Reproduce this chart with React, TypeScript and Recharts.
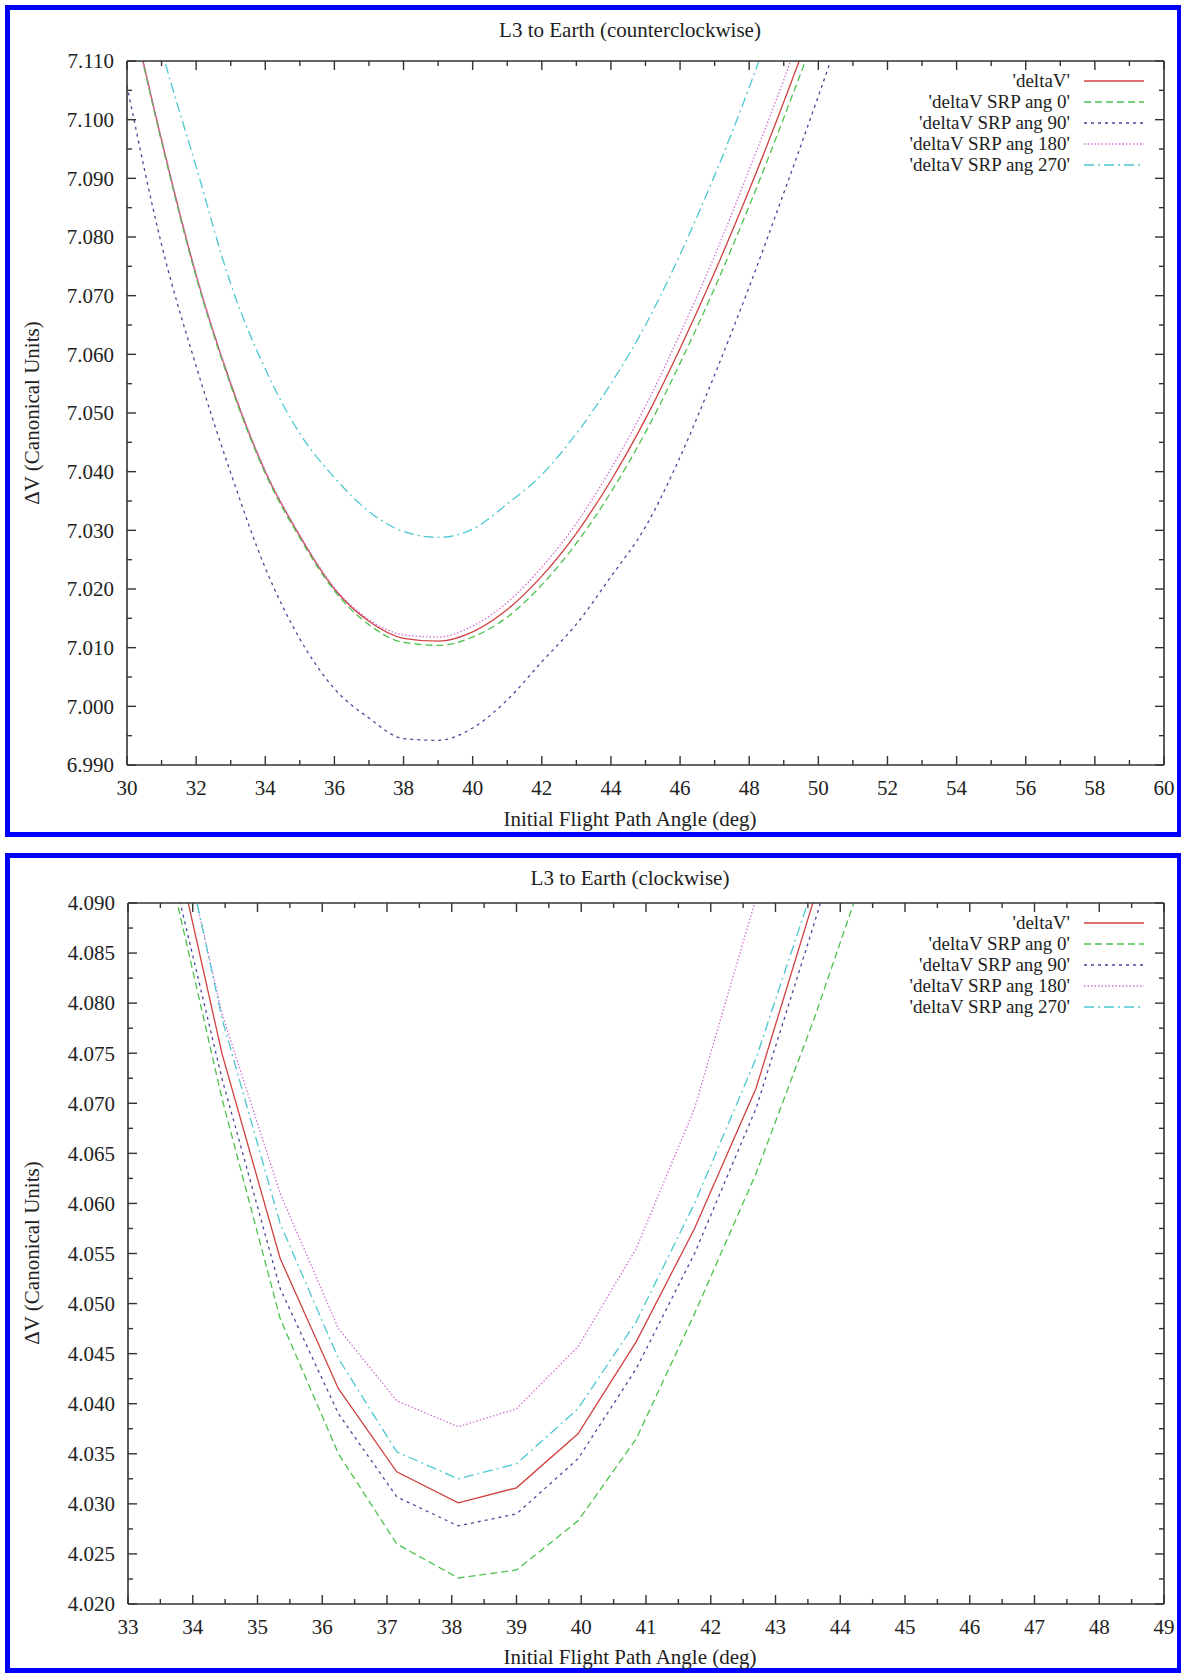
import React from 'react';
import { LineChart, Line, XAxis, YAxis } from 'recharts';

const FONT = '"Liberation Serif", "Times New Roman", serif';
const INK = '#222';
const AXIS = '#333';
const FRAME = '#0000ff';

// L3 to Earth (counterclockwise)
const ccwAngles = [30, 31, 32, 33, 34, 35, 36, 37, 38, 39, 40, 41, 42, 43, 44, 45, 46, 47, 48, 49, 50, 51];
const ccwDeltaV = [7.122, 7.0965, 7.0735, 7.055, 7.04, 7.029, 7.02, 7.0145, 7.0116, 7.0111, 7.0127, 7.0165, 7.0222, 7.0295, 7.0385, 7.049, 7.061, 7.074, 7.088, 7.103, 7.119, 7.136];
const ccwSrp0 = [7.1218, 7.0962, 7.0732, 7.0547, 7.0397, 7.0287, 7.0197, 7.0139, 7.0109, 7.0104, 7.0118, 7.0152, 7.0207, 7.0278, 7.0365, 7.0467, 7.0585, 7.0713, 7.0853, 7.1003, 7.116, 7.133];
const ccwSrp90 = [7.1058, 7.0787, 7.058, 7.0398, 7.0236, 7.0115, 7.003, 6.998, 6.9945, 6.9942, 6.9963, 7.0011, 7.0076, 7.014, 7.0221, 7.0306, 7.0425, 7.0565, 7.0715, 7.0875, 7.104, 7.121];
const ccwSrp180 = [7.1222, 7.0967, 7.0737, 7.0552, 7.0402, 7.0292, 7.0202, 7.0148, 7.0122, 7.0118, 7.0137, 7.0177, 7.0237, 7.0312, 7.0405, 7.0512, 7.0635, 7.0768, 7.0915, 7.1068, 7.1235, 7.141];
const ccwSrp270 = [7.136, 7.112, 7.092, 7.072, 7.0575, 7.0465, 7.039, 7.0332, 7.0298, 7.0288, 7.0302, 7.0345, 7.0395, 7.0465, 7.055, 7.065, 7.077, 7.0905, 7.1055, 7.122, 7.139, 7.157];
const ccwXTicks = [30, 31, 32, 33, 34, 35, 36, 37, 38, 39, 40, 41, 42, 43, 44, 45, 46, 47, 48, 49, 50, 51, 52, 53, 54, 55, 56, 57, 58, 59, 60];
const ccwYTicks = [6.99, 6.995, 7.0, 7.005, 7.01, 7.015, 7.02, 7.025, 7.03, 7.035, 7.04, 7.045, 7.05, 7.055, 7.06, 7.065, 7.07, 7.075, 7.08, 7.085, 7.09, 7.095, 7.1, 7.105, 7.11];

// L3 to Earth (clockwise)
const cwAngles = [33.55, 34.45, 35.35, 36.25, 37.15, 38.1, 39.0, 39.95, 40.85, 41.75, 42.7, 43.6, 44.5];
const cwDeltaV = [4.101, 4.075, 4.0545, 4.0415, 4.0332, 4.0301, 4.0316, 4.037, 4.0462, 4.0575, 4.0715, 4.0905, 4.11];
const cwSrp0 = [4.096, 4.0705, 4.0485, 4.035, 4.026, 4.0226, 4.0234, 4.0283, 4.0365, 4.049, 4.063, 4.0785, 4.0955];
const cwSrp90 = [4.097, 4.0725, 4.0515, 4.039, 4.0307, 4.0278, 4.029, 4.0345, 4.0435, 4.055, 4.0695, 4.088, 4.107];
const cwSrp180 = [4.1045, 4.079, 4.061, 4.0475, 4.0403, 4.0377, 4.0395, 4.0457, 4.0555, 4.0695, 4.0905, 4.112, 4.133];
const cwSrp270 = [4.1055, 4.0785, 4.058, 4.0445, 4.0352, 4.0325, 4.034, 4.0395, 4.0482, 4.06, 4.0745, 4.092, 4.111];
const cwXTicks = [33, 33.5, 34, 34.5, 35, 35.5, 36, 36.5, 37, 37.5, 38, 38.5, 39, 39.5, 40, 40.5, 41, 41.5, 42, 42.5, 43, 43.5, 44, 44.5, 45, 45.5, 46, 46.5, 47, 47.5, 48, 48.5, 49];
const cwYTicks = [4.02, 4.0225, 4.025, 4.0275, 4.03, 4.0325, 4.035, 4.0375, 4.04, 4.0425, 4.045, 4.0475, 4.05, 4.0525, 4.055, 4.0575, 4.06, 4.0625, 4.065, 4.0675, 4.07, 4.0725, 4.075, 4.0775, 4.08, 4.0825, 4.085, 4.0875, 4.09];

const series = [
  { key: 'deltaV', label: "'deltaV'", color: '#d04040', dash: undefined as string | undefined },
  { key: 'srp0', label: "'deltaV SRP ang 0'", color: '#4cc24c', dash: '7 4' },
  { key: 'srp90', label: "'deltaV SRP ang 90'", color: '#48489c', dash: '3 4' },
  { key: 'srp180', label: "'deltaV SRP ang 180'", color: '#d070d0', dash: '1.5 2' },
  { key: 'srp270', label: "'deltaV SRP ang 270'", color: '#4cc8d0', dash: '10 4 2 4' },
];

const buildRows = (angles: number[], cols: number[][]) =>
  angles.map((angle, i) => ({
    angle,
    deltaV: cols[0][i],
    srp0: cols[1][i],
    srp90: cols[2][i],
    srp180: cols[3][i],
    srp270: cols[4][i],
  }));

const ccwRows = buildRows(ccwAngles, [ccwDeltaV, ccwSrp0, ccwSrp90, ccwSrp180, ccwSrp270]);
const cwRows = buildRows(cwAngles, [cwDeltaV, cwSrp0, cwSrp90, cwSrp180, cwSrp270]);

const X_MARGIN = 15;
const Y_MARGIN = 13;
const len = (major: boolean) => (major ? 9 : 5);
const textStyle = { fontFamily: FONT, fontSize: 21, fill: INK };

interface ChartProps {
  top: number;
  height: number;
  margin: { top: number; right: number; bottom: number; left: number };
  rows: any[];
  xDomain: [number, number];
  xTicks: number[];
  yDomain: [number, number];
  yTicks: number[];
  majorX: (v: number) => boolean;
  majorY: (v: number) => boolean;
  curve: 'monotone' | 'linear';
}

function DeltaVChart({ top, height, margin, rows, xDomain, xTicks, yDomain, yTicks, majorX, majorY, curve }: ChartProps) {
  // gnuplot-style ticks: pointing inwards, minor ones shorter and unlabeled
  const bottomTick = (p: any) => {
    const major = majorX(p.payload.value);
    const ay = p.y - X_MARGIN;
    return (
      <g>
        <line x1={p.x} x2={p.x} y1={ay} y2={ay - len(major)} stroke={AXIS} strokeWidth={1.4} />
        {major && (
          <text x={p.x} y={p.y} dy="0.71em" textAnchor="middle" style={textStyle}>
            {String(p.payload.value)}
          </text>
        )}
      </g>
    );
  };
  const topTick = (p: any) => (
    <line x1={p.x} x2={p.x} y1={p.y} y2={p.y + len(majorX(p.payload.value))} stroke={AXIS} strokeWidth={1.4} />
  );
  const leftTick = (p: any) => {
    const major = majorY(p.payload.value);
    const ax = p.x + Y_MARGIN;
    return (
      <g>
        <line x1={ax} x2={ax + len(major)} y1={p.y} y2={p.y} stroke={AXIS} strokeWidth={1.4} />
        {major && (
          <text x={p.x} y={p.y} dy="0.35em" textAnchor="end" style={textStyle}>
            {p.payload.value.toFixed(3)}
          </text>
        )}
      </g>
    );
  };
  const rightTick = (p: any) => (
    <line x1={p.x} x2={p.x - len(majorY(p.payload.value))} y1={p.y} y2={p.y} stroke={AXIS} strokeWidth={1.4} />
  );

  return (
    <div style={{ position: 'absolute', left: 0, top }}>
      <LineChart width={1181} height={height} data={rows} margin={margin}>
        <XAxis
          dataKey="angle"
          type="number"
          domain={xDomain}
          ticks={xTicks}
          interval={0}
          allowDataOverflow
          height={40}
          tickSize={0}
          tickMargin={X_MARGIN}
          tick={bottomTick}
          axisLine={{ stroke: AXIS, strokeWidth: 1.6 }}
        />
        <XAxis
          xAxisId="t"
          orientation="top"
          dataKey="angle"
          type="number"
          domain={xDomain}
          ticks={xTicks}
          interval={0}
          allowDataOverflow
          height={5}
          tickSize={0}
          tickMargin={0}
          tick={topTick}
          axisLine={{ stroke: AXIS, strokeWidth: 1.6 }}
        />
        <YAxis
          type="number"
          domain={yDomain}
          ticks={yTicks}
          interval={0}
          allowDataOverflow
          width={80}
          tickSize={0}
          tickMargin={Y_MARGIN}
          tick={leftTick}
          axisLine={{ stroke: AXIS, strokeWidth: 1.6 }}
        />
        <YAxis
          yAxisId="r"
          orientation="right"
          type="number"
          domain={yDomain}
          ticks={yTicks}
          interval={0}
          allowDataOverflow
          width={5}
          tickSize={0}
          tickMargin={0}
          tick={rightTick}
          axisLine={{ stroke: AXIS, strokeWidth: 1.6 }}
        />
        {series.map((s) => (
          <Line
            key={s.key}
            type={curve}
            dataKey={s.key}
            stroke={s.color}
            strokeWidth={1.3}
            strokeDasharray={s.dash}
            dot={false}
            activeDot={false}
            isAnimationActive={false}
          />
        ))}
      </LineChart>
    </div>
  );
}

const Caption = ({ cx, cy, text, rotate }: { cx: number; cy: number; text: string; rotate?: boolean }) => (
  <div
    style={{
      position: 'absolute',
      left: cx - 300,
      top: cy - 12,
      width: 600,
      height: 24,
      lineHeight: '24px',
      textAlign: 'center',
      fontFamily: FONT,
      fontSize: 21,
      color: INK,
      whiteSpace: 'nowrap',
      transform: rotate ? 'rotate(-90deg)' : undefined,
    }}
  >
    {text}
  </div>
);

const ROW = 21;

const KeyBox = ({ top }: { top: number }) => (
  <div style={{ position: 'absolute', left: 700, width: 444, top }}>
    {series.map((s) => (
      <div key={s.key} style={{ display: 'flex', justifyContent: 'flex-end', alignItems: 'center', height: ROW }}>
        <span
          style={{
            display: 'block',
            height: ROW,
            lineHeight: `${ROW}px`,
            whiteSpace: 'nowrap',
            fontFamily: FONT,
            fontSize: 19,
            color: INK,
          }}
        >
          {s.label}
        </span>
        <svg width={60} height={8} style={{ marginLeft: 14 }}>
          <line x1={0} x2={60} y1={4} y2={4} stroke={s.color} strokeWidth={1.3} strokeDasharray={s.dash} />
        </svg>
      </div>
    ))}
  </div>
);

const Frame = ({ top, height }: { top: number; height: number }) => (
  <div
    style={{
      position: 'absolute',
      left: 5,
      top,
      width: 1176,
      height,
      boxSizing: 'border-box',
      border: `5px solid ${FRAME}`,
      borderRightWidth: 4,
      background: '#fff',
    }}
  />
);

export default function App() {
  return (
    <div style={{ position: 'absolute', left: 0, top: 0, width: 1181, height: 1673, background: '#fff', overflow: 'hidden' }}>
      <Frame top={5} height={832} />
      <Frame top={853} height={820} />

      <Caption cx={630} cy={30} text="L3 to Earth (counterclockwise)" />
      <DeltaVChart
        top={0}
        height={837}
        margin={{ top: 56, right: 12, bottom: 32, left: 47 }}
        rows={ccwRows}
        xDomain={[30, 60]}
        xTicks={ccwXTicks}
        yDomain={[6.99, 7.11]}
        yTicks={ccwYTicks}
        majorX={(v) => v % 2 === 0}
        majorY={(v) => Math.round(v * 1000) % 10 === 0}
        curve="monotone"
      />
      <Caption cx={32} cy={413} text="ΔV (Canonical Units)" rotate />
      <Caption cx={630} cy={819} text="Initial Flight Path Angle (deg)" />
      <KeyBox top={70} />

      <Caption cx={630} cy={878} text="L3 to Earth (clockwise)" />
      <DeltaVChart
        top={853}
        height={820}
        margin={{ top: 45, right: 12, bottom: 29, left: 48 }}
        rows={cwRows}
        xDomain={[33, 49]}
        xTicks={cwXTicks}
        yDomain={[4.02, 4.09]}
        yTicks={cwYTicks}
        majorX={(v) => Number.isInteger(v)}
        majorY={(v) => Math.round(v * 10000) % 50 === 0}
        curve="linear"
      />
      <Caption cx={32} cy={1253} text="ΔV (Canonical Units)" rotate />
      <Caption cx={630} cy={1657} text="Initial Flight Path Angle (deg)" />
      <KeyBox top={912} />
    </div>
  );
}
